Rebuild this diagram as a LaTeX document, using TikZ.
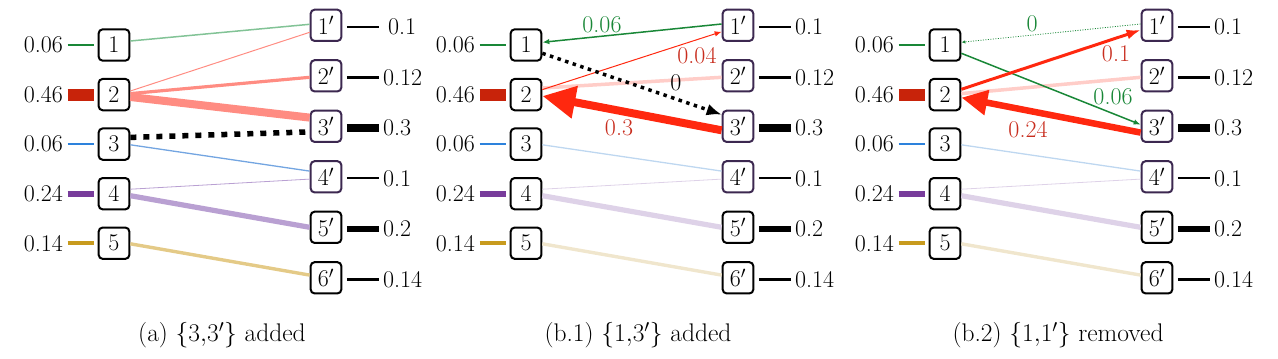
\RequirePackage{fix-cm}
\documentclass[tikz,border=0pt]{standalone}
\usetikzlibrary{arrows.meta}
\definecolor{cgreen}{RGB}{25,135,55}
\definecolor{cgreenL}{RGB}{130,195,150}
\definecolor{cred}{RGB}{200,35,10}
\definecolor{credA}{RGB}{255,40,15}
\definecolor{credT}{RGB}{200,45,30}
\definecolor{csalmon}{RGB}{255,140,130}
\definecolor{cpink}{RGB}{255,205,200}
\definecolor{cblue}{RGB}{45,130,220}
\definecolor{cblueL}{RGB}{115,165,225}
\definecolor{cblueF}{RGB}{190,215,240}
\definecolor{cpurple}{RGB}{120,60,155}
\definecolor{cpurpleL}{RGB}{185,160,210}
\definecolor{cpurpleF}{RGB}{222,210,232}
\definecolor{cgold}{RGB}{200,155,30}
\definecolor{cgoldL}{RGB}{228,202,135}
\definecolor{cgoldF}{RGB}{240,230,205}
\definecolor{cframe}{RGB}{60,40,80}
\tikzset{
  every node/.style={font=\fontsize{24}{28}\selectfont},
  lnode/.style={draw=black, line width=2pt, rounded corners=4pt, minimum width=30.7pt, minimum height=31.3pt, inner sep=0pt, fill=white},
  rnode/.style={lnode, draw=cframe},
  val/.style={inner sep=0pt},
  elabel/.style={inner sep=0pt},
  caption/.style={font=\fontsize{25.5}{30}\selectfont},
}
\newcommand\basepanel[4]{% #1 prefix, #2 left x, #3 right x, #4 xshift of top right label
  \foreach \i/\yy in {1/45,2/94.6,3/144.1,4/193.7,5/243.2}
    \node[lnode] (#1l\i) at (#2,\yy) {$\i$};
  \foreach \j/\yy/\st in {1/25.3/rnode,2/75.8/rnode,3/126.3/rnode,4/176.8/rnode,5/227.3/lnode,6/277.8/lnode}
    \node[\st] (#1r\j) at (#3,\yy) {$\j'$};
  \foreach \i/\v/\c/\w in {1/0.06/cgreen/1.8,2/0.46/cred/12,3/0.06/cblue/1.6,4/0.24/cpurple/6.4,5/0.14/cgold/3.8}{
    \node[val, anchor=east] (#1v\i) at ([xshift=-51pt]#1l\i.center) {\v};
    \draw[\c, line width=\w pt] ([xshift=4.5pt]#1v\i.east) -- ([xshift=-3.5pt]#1l\i.west);
  }
  \foreach \j/\v/\w/\s in {1/0.1/2.2/#4,2/0.12/2.4/57,3/0.3/7.8/57,4/0.1/2.2/57,5/0.2/5.8/57,6/0.14/3/57}{
    \node[val, anchor=west] (#1w\j) at ([xshift=\s pt, yshift=-1.5pt]#1r\j.center) {\v};
    \draw[black, line width=\w pt] ([xshift=4.5pt, yshift=-1.5pt]#1r\j.east) -- ([xshift=36.5pt]#1r\j.east |- #1w\j.west);
  }
}
\begin{document}
\begin{tikzpicture}[x=1pt, y=-1pt]
\useasboundingbox (0,0) rectangle (1278,359);

% ---------- panel (a)
\basepanel{a}{114}{326}{62}
\draw[cgreenL, line width=1.5pt] ([yshift=4pt]al1.east) -- ([yshift=1pt]ar1.west);
\draw[csalmon, line width=1pt] ([yshift=3.6pt]al2.east) -- ([yshift=-7pt]ar1.west);
\draw[csalmon, line width=3.2pt] ([yshift=1pt]al2.east) -- ([yshift=-1.5pt]ar2.west);
\draw[csalmon, line width=8pt] ([yshift=-2.4pt]al2.east) -- ([yshift=8.7pt]ar3.west);
\draw[black, line width=5.5pt, dash pattern=on 6pt off 7pt] ([yshift=6.7pt]al3.east) -- ([yshift=-5.6pt]ar3.west);
\draw[cblueL, line width=1.3pt] ([yshift=-0.7pt]al3.east) -- ([yshift=5.7pt]ar4.west);
\draw[cpurpleL, line width=0.8pt] ([yshift=4.5pt]al4.east) -- ([yshift=-2.3pt]ar4.west);
\draw[cpurpleL, line width=5.2pt] ([yshift=-2pt]al4.east) -- (ar5.west);
\draw[cgoldL, line width=3.4pt] ([yshift=-0.6pt]al5.east) -- ([yshift=2.7pt]ar6.west);
\node[caption] (capa) at (222,335) {(a) $\{3{,}3'\}$ added};

% ---------- panel (b.1)
\basepanel{b}{526}{738}{57}
\draw[cblueF, line width=1.3pt] ([yshift=-0.7pt]bl3.east) -- ([yshift=5.7pt]br4.west);
\draw[cpurpleF, line width=0.8pt] ([yshift=4.5pt]bl4.east) -- ([yshift=-2.3pt]br4.west);
\draw[cpurpleF, line width=5.2pt] ([yshift=-2pt]bl4.east) -- (br5.west);
\draw[cgoldF, line width=3.4pt] ([yshift=-0.6pt]bl5.east) -- ([yshift=2.7pt]br6.west);
\draw[cpink, line width=3.5pt] ([yshift=6.6pt]bl2.east) -- ([yshift=-1.5pt]br2.west);
\draw[cgreen, line width=1.5pt, -{Latex[length=7pt,width=5.5pt]}] ([yshift=1.3pt]br1.west) -- ([yshift=2.7pt]bl1.east);
\draw[credA, line width=1pt, -{Latex[length=7pt,width=5.5pt]}] ([yshift=5pt]bl2.east) -- ([yshift=-6.4pt]br1.west);
\draw[black, line width=3.5pt, dash pattern=on 3.5pt off 4.5pt, -{Latex[length=15pt,width=12pt]}] ([yshift=-8.3pt]bl1.east) -- ([yshift=11.7pt]br3.west);
\draw[credA, line width=8pt, -{Triangle[length=33pt,width=31pt]}] ([yshift=-4pt]br3.west) -- ([yshift=-1.4pt]bl2.east);
\node[elabel, text=cgreen] (bt1) at (602,25) {0.06};
\node[elabel, text=credT] (bt2) at (697,56) {0.04};
\node[elabel, text=black] (bt3) at (676,83) {0};
\node[elabel, text=credT] (bt4) at (619,128) {0.3};
\node[caption] (capb) at (638,335) {(b.1) $\{1{,}3'\}$ added};

% ---------- panel (b.2)
\basepanel{c}{945}{1157}{57}
\draw[cblueF, line width=1.3pt] ([yshift=-0.7pt]cl3.east) -- ([yshift=5.7pt]cr4.west);
\draw[cpurpleF, line width=0.8pt] ([yshift=4.5pt]cl4.east) -- ([yshift=-2.3pt]cr4.west);
\draw[cpurpleF, line width=5.2pt] ([yshift=-2pt]cl4.east) -- (cr5.west);
\draw[cgoldF, line width=3.4pt] ([yshift=-0.6pt]cl5.east) -- ([yshift=2.7pt]cr6.west);
\draw[cpink, line width=3.5pt] ([yshift=1pt]cl2.east) -- ([yshift=-1.5pt]cr2.west);
\draw[cgreen, line width=0.8pt, dash pattern=on 1pt off 1.5pt, -{Latex[length=4pt,width=3.5pt]}] ([yshift=1.3pt]cr1.west) -- ([yshift=2.7pt]cl1.east);
\draw[cgreen, line width=1.5pt, -{Latex[length=7pt,width=5.5pt]}] ([yshift=-8.3pt]cl1.east) -- ([yshift=1.7pt]cr3.west);
\draw[credA, line width=3pt, -{Latex[length=14pt,width=10pt]}] ([yshift=5.3pt]cl2.east) -- ([yshift=-4.7pt]cr1.west);
\draw[credA, line width=6.5pt, -{Triangle[length=26pt,width=24pt]}] ([yshift=-6.3pt]cr3.west) -- ([yshift=-3pt]cl2.east);
\node[elabel, text=cgreen] (ct1) at (1032,24) {0};
\node[elabel, text=credT] (ct2) at (1116,54) {0.1};
\node[elabel, text=cgreen] (ct3) at (1113,97) {0.06};
\node[elabel, text=credT] (ct4) at (1028,130) {0.24};
\node[caption] (capc) at (1058,335) {(b.2) $\{1{,}1'\}$ removed};
\end{tikzpicture}
\end{document}
